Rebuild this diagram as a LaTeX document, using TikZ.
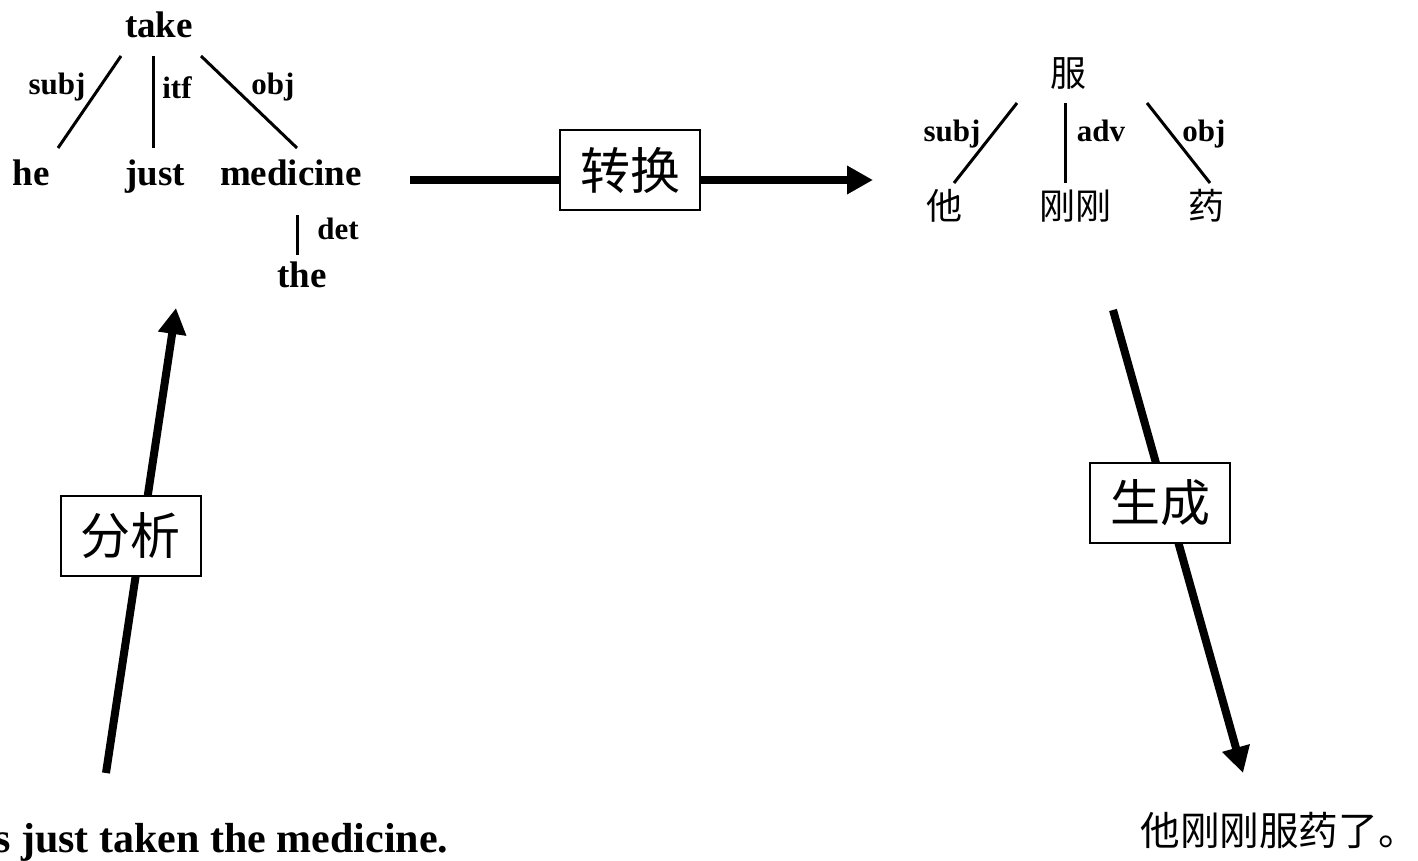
\documentclass[tikz,border=0pt]{standalone}
\usepackage{fontspec}
\setmainfont{Liberation Serif}
\newfontfamily\cjk{Noto Sans CJK SC}
\usetikzlibrary{arrows.meta}
\begin{document}
\begin{tikzpicture}[x=0.5pt,y=-0.5pt,
  word/.style={font=\fontsize{18.5}{22}\selectfont\bfseries, inner sep=0pt, anchor=base},
  rel/.style={font=\fontsize{15.5}{18}\selectfont\bfseries, inner sep=0pt, anchor=base},
  cword/.style={font=\cjk\fontsize{18}{22}\selectfont, inner sep=0pt},
  edge/.style={line width=1.5pt},
  bigarrow/.style={line width=4pt, -{Triangle[length=13pt,width=13.5pt]}},
  stagebox/.style={draw, line width=1pt, fill=white, inner sep=0pt,
    minimum width=70pt, minimum height=40pt, font=\cjk\fontsize{25}{30}\selectfont}]
\useasboundingbox (0,0) rectangle (1418,861);

% ---- English dependency tree ----
\node[word] (take) at (159,38) {take};
\node[word] (he) at (31,186) {he};
\node[word] (just) at (155,186) {just};
\node[word] (medicine) at (291,186) {medicine};
\node[word] (the) at (302,287) {the};
\node[rel] (lsubj) at (57,95) {subj};
\node[rel] (litf) at (177,99) {itf};
\node[rel] (lobj) at (273,95) {obj};
\node[rel] (ldet) at (338,240) {det};

\coordinate (take-s) at (121,56);
\coordinate (he-n) at (58,148);
\coordinate (take-m) at (153,56);
\coordinate (just-n) at (153,148);
\coordinate (take-o) at (201,56);
\coordinate (med-n) at (297,148);
\coordinate (med-s) at (297,215);
\coordinate (the-n) at (297,255);
\draw[edge] (take-s) -- (he-n);
\draw[edge] (take-m) -- (just-n);
\draw[edge] (take-o) -- (med-n);
\draw[edge] (med-s) -- (the-n);

% ---- Chinese dependency tree ----
\node[cword] (fu) at (1068,74) {服};
\node[cword] (ta) at (944,206) {他};
\node[cword] (ganggang) at (1075,206) {刚刚};
\node[cword] (yao) at (1206,206) {药};
\node[rel] (rsubj) at (952,142) {subj};
\node[rel] (radv) at (1101,142) {adv};
\node[rel] (robj) at (1204,142) {obj};

\coordinate (fu-s) at (1017,103);
\coordinate (ta-n) at (954,183);
\coordinate (fu-m) at (1065,103);
\coordinate (gg-n) at (1065,183);
\coordinate (fu-o) at (1147,103);
\coordinate (yao-n) at (1210,183);
\draw[edge] (fu-s) -- (ta-n);
\draw[edge] (fu-m) -- (gg-n);
\draw[edge] (fu-o) -- (yao-n);

% ---- sentences ----
\node[font=\fontsize{21}{25}\selectfont\bfseries, inner sep=0pt, anchor=base west] (src) at (-6,852) {s just taken the medicine.};
\node[font=\cjk\fontsize{19.8}{24}\selectfont, inner sep=0pt, anchor=west] (tgt) at (1140,830) {他刚刚服药了。};

% ---- process arrows ----
\coordinate (a1s) at (106,773);
\coordinate (a1e) at (176,308);
\coordinate (a2s) at (410,180);
\coordinate (a2e) at (873,180);
\coordinate (a3s) at (1113,310);
\coordinate (a3e) at (1243,773);
\draw[bigarrow] (a1s) -- (a1e);
\draw[bigarrow] (a2s) -- (a2e);
\draw[bigarrow] (a3s) -- (a3e);

\node[stagebox] (analyse) at (130.5,535.5) {分析};
\node[stagebox] (transfer) at (630,170.5) {转换};
\node[stagebox] (generate) at (1160,502.5) {生成};
\end{tikzpicture}
\end{document}
